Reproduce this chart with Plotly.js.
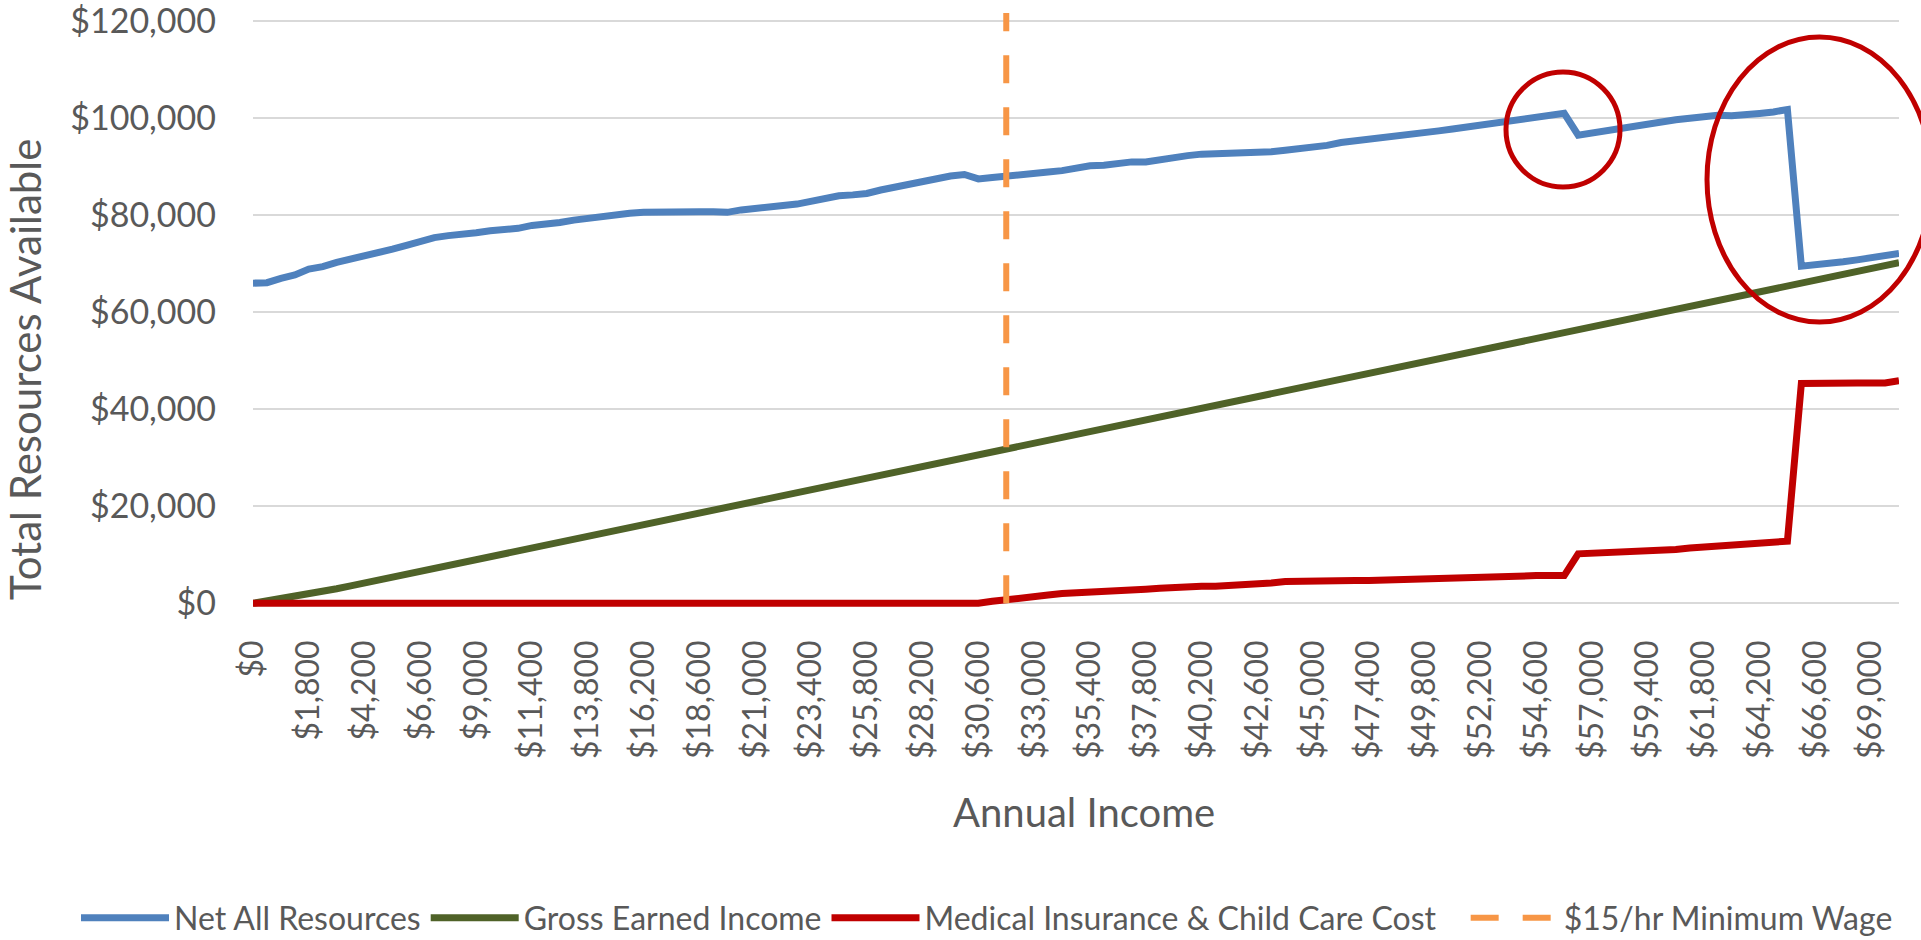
<!DOCTYPE html>
<html>
<head>
<meta charset="utf-8">
<script src="https://cdn.plot.ly/plotly-3.0.1.min.js"></script>
<style>
  html, body { margin: 0; padding: 0; background: #ffffff; }
  #chart { width: 1921px; height: 940px; }
</style>
</head>
<body>
<div id="chart"></div>
<script>
// Annual income steps (category axis)
const annualIncome = [
  0, 450, 900, 1350,
  1800, 2400, 3000, 3600, 4200, 4800, 5400, 6000, 6600, 7200,
  7800, 8400, 9000, 9600, 10200, 10800, 11400, 12000, 12600, 13200,
  13800, 14400, 15000, 15600, 16200, 16800, 17400, 18000, 18600, 19200,
  19800, 20400, 21000, 21600, 22200, 22800, 23400, 24000, 24600, 25200,
  25800, 26400, 27000, 27600, 28200, 28800, 29400, 30000, 30600, 31200,
  31800, 32400, 33000, 33600, 34200, 34800, 35400, 36000, 36600, 37200,
  37800, 38400, 39000, 39600, 40200, 40800, 41400, 42000, 42600, 43200,
  43800, 44400, 45000, 45600, 46200, 46800, 47400, 48000, 48600, 49200,
  49800, 50400, 51000, 51600, 52200, 52800, 53400, 54000, 54600, 55200,
  55800, 56400, 57000, 57600, 58200, 58800, 59400, 60000, 60600, 61200,
  61800, 62400, 63000, 63600, 64200, 64800, 65400, 66000, 66600, 67200,
  67800, 68400, 69000, 69600, 70200
];

// Net all resources available at each income step
const netAllResources = [
  66000, 66100, 67000, 67700, 68900, 69400, 70300, 70900, 71700, 72300,
  73000, 73800, 74600, 75400, 75800, 76000, 76400, 76800, 76900, 77300,
  77900, 78100, 78500, 79000, 79400, 79700, 80200, 80400, 80600, 80700,
  80700, 80700, 80700, 80700, 80600, 81100, 81500, 81900, 82000, 82300,
  82900, 83400, 84000, 84200, 84500, 85200, 85800, 86400, 87000, 87600,
  88100, 88400, 87500, 87800, 88000, 88400, 88700, 88900, 89200, 89700,
  90200, 90300, 90700, 91000, 91000, 91500, 92000, 92300, 92600, 92700,
  92700, 92800, 92800, 93100, 93400, 93700, 94000, 94400, 95000, 95300,
  95600, 95900, 96400, 96800, 97100, 97400, 97800, 98200, 98600, 99000,
  99500, 100000, 100400, 100700, 101000, 96500, 97000, 97400, 97900, 98400,
  98900, 99300, 99700, 100000, 100300, 100600, 100500, 100600, 101000, 101300,
  101800, 69500, 69700, 70000, 70400, 70800, 71300, 71800, 72100
];

// Gross earned income at each income step
const grossEarnedIncome = [
  0, 450, 900, 1350,
  1800, 2400, 3000, 3600, 4200, 4800, 5400, 6000, 6600, 7200,
  7800, 8400, 9000, 9600, 10200, 10800, 11400, 12000, 12600, 13200,
  13800, 14400, 15000, 15600, 16200, 16800, 17400, 18000, 18600, 19200,
  19800, 20400, 21000, 21600, 22200, 22800, 23400, 24000, 24600, 25200,
  25800, 26400, 27000, 27600, 28200, 28800, 29400, 30000, 30600, 31200,
  31800, 32400, 33000, 33600, 34200, 34800, 35400, 36000, 36600, 37200,
  37800, 38400, 39000, 39600, 40200, 40800, 41400, 42000, 42600, 43200,
  43800, 44400, 45000, 45600, 46200, 46800, 47400, 48000, 48600, 49200,
  49800, 50400, 51000, 51600, 52200, 52800, 53400, 54000, 54600, 55200,
  55800, 56400, 57000, 57600, 58200, 58800, 59400, 60000, 60600, 61200,
  61800, 62400, 63000, 63600, 64200, 64800, 65400, 66000, 66600, 67200,
  67800, 68400, 69000, 69600, 70200
];

// Medical insurance & child care cost at each income step
const medicalChildCareCost = [
  0, 0, 0, 0, 0, 0, 0, 0, 0, 0,
  0, 0, 0, 0, 0, 0, 0, 0, 0, 0,
  0, 0, 0, 0, 0, 0, 0, 0, 0, 0,
  0, 0, 0, 0, 0, 0, 0, 0, 0, 0,
  0, 0, 0, 0, 0, 0, 0, 0, 0, 0,
  0, 0, 0, 400, 800, 1100, 1400, 1700, 2000, 2100,
  2200, 2300, 2500, 2700, 2900, 3100, 3300, 3400, 3500, 3500,
  3600, 3700, 3900, 4200, 4500, 4600, 4600, 4600, 4600, 4700,
  4700, 4800, 4900, 5000, 5100, 5200, 5300, 5500, 5600, 5700,
  5700, 5700, 5700, 5700, 5700, 10200, 10300, 10400, 10500, 10600,
  10700, 10900, 11100, 11400, 11600, 11900, 12200, 12400, 12500, 12600,
  12800, 45300, 45400, 45400, 45400, 45400, 45400, 45400, 45900
];

// Annual income at the $15/hr minimum wage
const minimumWageIncome = 31800;

const yTickValues = [0, 20000, 40000, 60000, 80000, 100000, 120000];
const yBottom = -1800;   // a little room below $0 so the zero-valued line shows its full width
const yTop = 121700;

const money = v => '$' + v.toLocaleString('en-US');
const categories = annualIncome.map(money);

const FONT = 'Lato, "Open Sans", "DejaVu Sans", sans-serif';
const TEXT = '#595959';
const GRID = '#D9D9D9';
const NBSP = '\u00a0';

function seriesLine(name, values, color) {
  return {
    type: 'scatter', mode: 'lines', name: name,
    x: categories, y: values,
    line: { color: color, width: 7 },
    hoverinfo: 'skip'
  };
}

const traces = [
  seriesLine('Net All Resources', netAllResources, '#4F81BD'),
  seriesLine('Gross Earned Income', grossEarnedIncome, '#4F6228'),
  // trailing spaces widen the gap before the last legend entry
  seriesLine('Medical Insurance &amp; Child Care Cost' + NBSP.repeat(3), medicalChildCareCost, '#C00000'),
  {
    type: 'scatter', mode: 'lines', name: '$15/hr Minimum Wage',
    x: [money(minimumWageIncome), money(minimumWageIncome)],
    y: [0, yTop],
    line: { color: '#F79646', width: 6, dash: '28px,24px' },
    hoverinfo: 'skip'
  }
];

// plot box in pixels; helpers turn pixel positions into paper units
const W = 1921, H = 940, L = 253, R = 22, T = 13, B = 328;
const pw = W - L - R, ph = H - T - B;
const px = x => (x - L) / pw;
const py = y => (H - B - y) / ph;

const ring = (x0, x1, y0, y1) => ({
  type: 'circle', xref: 'paper', yref: 'paper',
  x0: px(x0), x1: px(x1), y0: py(y1), y1: py(y0),
  line: { color: '#C00000', width: 5 }, fillcolor: 'rgba(0,0,0,0)', layer: 'above'
});

const layout = {
  width: W, height: H,
  margin: { l: L, r: R, t: T, b: B, pad: 0, autoexpand: false },
  paper_bgcolor: '#ffffff', plot_bgcolor: '#ffffff',
  font: { family: FONT, color: TEXT, size: 32 },
  showlegend: true,
  xaxis: {
    type: 'category',
    range: [0, categories.length - 1],
    tickmode: 'linear', tick0: 0, dtick: 4,
    tickangle: -90,
    showgrid: false, zeroline: false, showline: false,
    ticks: '', ticklabelstandoff: 21,
    tickfont: { family: FONT, size: 32, color: TEXT },
    ticklabeloverflow: 'allow',
    automargin: false, fixedrange: true
  },
  yaxis: {
    range: [yBottom, yTop],
    tickmode: 'array', tickvals: yTickValues,
    ticktext: yTickValues.map(money),
    showgrid: true, gridcolor: GRID, gridwidth: 2,
    zeroline: true, zerolinecolor: GRID, zerolinewidth: 2,
    showline: false,
    ticks: '', ticklabelstandoff: 36,
    tickfont: { family: FONT, size: 34, color: TEXT },
    ticklabeloverflow: 'allow',
    automargin: false, fixedrange: true
  },
  legend: {
    orientation: 'h',
    xref: 'paper', yref: 'paper',
    x: px(76), xanchor: 'left',
    y: py(918), yanchor: 'middle',
    font: { family: FONT, size: 32, color: TEXT },
    itemwidth: 88, traceorder: 'normal',
    bgcolor: 'rgba(0,0,0,0)'
  },
  annotations: [
    {
      text: 'Annual Income', showarrow: false,
      xref: 'paper', yref: 'paper',
      x: px(1084), y: py(812), xanchor: 'center', yanchor: 'middle',
      font: { family: FONT, size: 40, color: TEXT }
    },
    {
      text: 'Total Resources Available', showarrow: false, textangle: -90,
      xref: 'paper', yref: 'paper',
      x: px(25), y: py(369), xanchor: 'center', yanchor: 'middle',
      font: { family: FONT, size: 42, color: TEXT }
    }
  ],
  shapes: [
    ring(1506, 1620, 72, 187),
    ring(1707, 1932, 37, 322)
  ]
};

Plotly.newPlot('chart', traces, layout, { displayModeBar: false, staticPlot: true });
</script>
</body>
</html>
